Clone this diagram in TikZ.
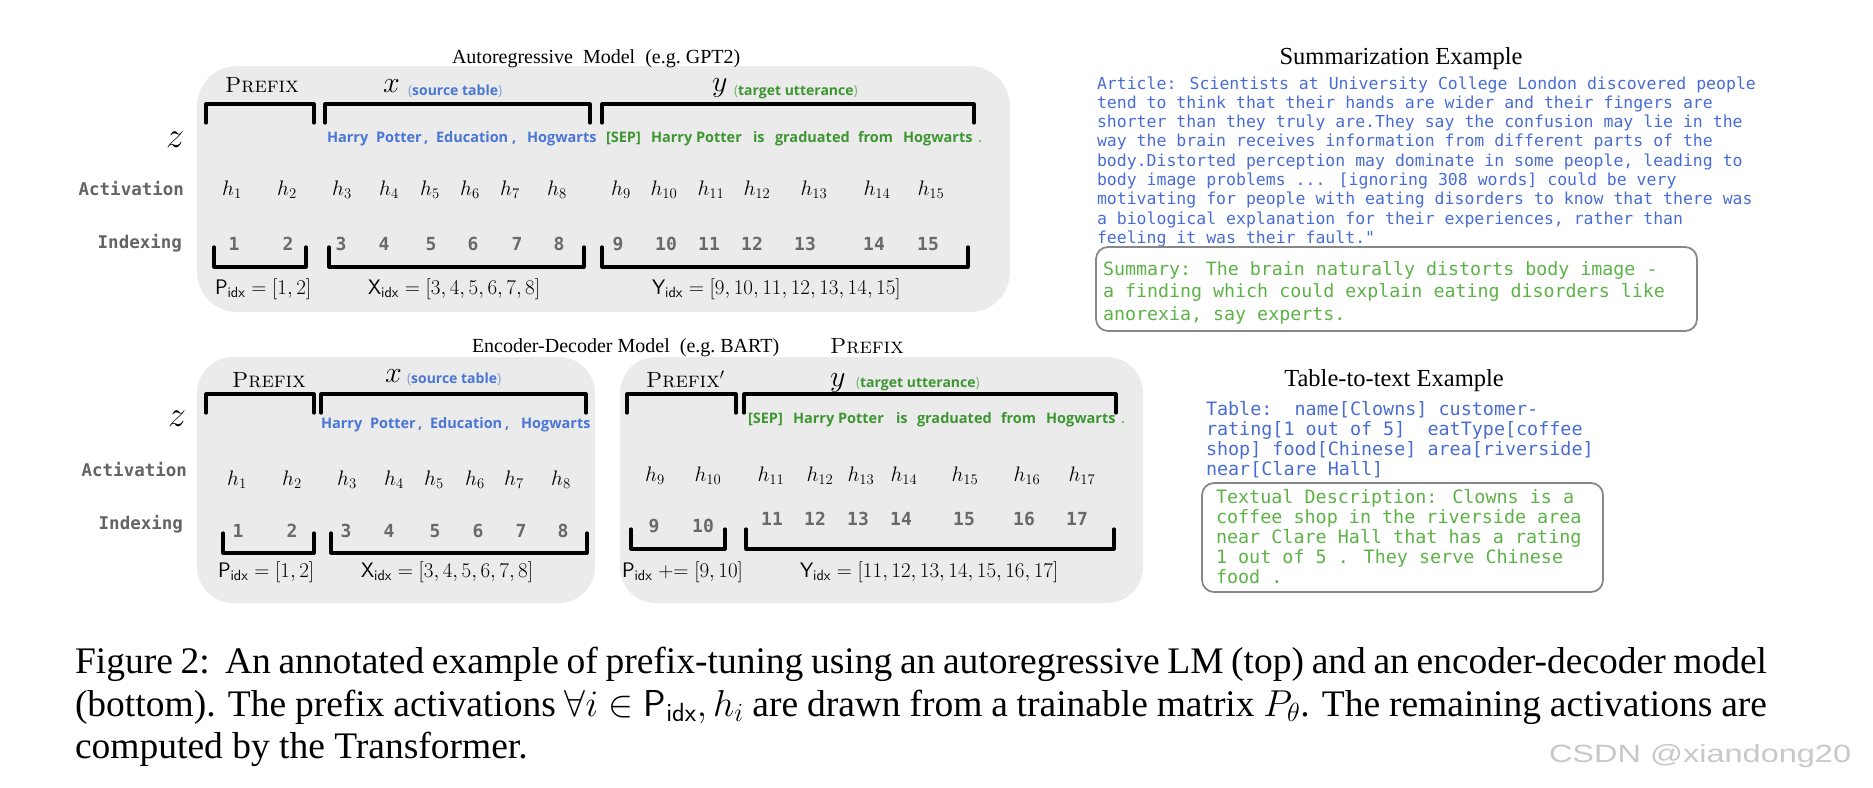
\RequirePackage{fix-cm}
\documentclass[tikz,border=0pt]{standalone}
\usepackage{fontspec}
\newfontfamily\tms{Liberation Serif}
\newfontfamily\mono{DejaVu Sans Mono}
\newfontfamily\osans{Open Sans}
\newfontfamily\wmfont[FakeStretch=1.3]{Liberation Sans}
\definecolor{boxgray}{RGB}{235,235,235}
\definecolor{tokblue}{RGB}{74,118,214}
\definecolor{tokgreen}{RGB}{62,150,50}
\definecolor{artblue}{RGB}{72,108,212}
\definecolor{sumgreen}{RGB}{92,178,70}
\definecolor{lblgray}{RGB}{100,100,100}
\definecolor{numgray}{RGB}{105,105,105}
\definecolor{bordergray}{RGB}{135,135,135}
\definecolor{wmgray}{RGB}{200,200,200}
\newcommand\FS[2]{\fontsize{#1}{#2}\selectfont}
\newcommand\TDots{...}
\newcommand\TopBr[3]{\draw[brk] (#1,#3+19) -- (#1,#3) -- (#2,#3) -- (#2,#3+19);}
\newcommand\BotBr[3]{\draw[brk] (#1,#3) -- (#1,#3+20) -- (#2,#3+20) -- (#2,#3);}
\tikzset{
  txt/.style={inner sep=0pt, outer sep=0pt, anchor=base west},
  ctr/.style={inner sep=0pt, outer sep=0pt, anchor=base},
  rgt/.style={inner sep=0pt, outer sep=0pt, anchor=base east},
  brk/.style={line width=3.2pt, line cap=round, line join=round, black},
  panel/.style={fill=boxgray, draw=none},
  ttl/.style={txt, font=\tms\FS{20}{24}},
  pfx/.style={txt, font=\FS{22}{26}\scshape},
  tokb/.style={txt, font=\osans\bfseries\FS{14.5}{17}, text=tokblue},
  tokg/.style={txt, font=\osans\bfseries\FS{14.5}{17}, text=tokgreen},
  hh/.style={ctr, font=\FS{21}{25}},
  num/.style={ctr, font=\mono\bfseries\FS{18}{20}, text=numgray},
  lbl/.style={rgt, font=\mono\bfseries\FS{17.5}{20}, text=lblgray},
  idxl/.style={txt, font=\FS{21}{25}},
  zz/.style={ctr, font=\FS{36}{40}},
  var/.style={txt, font=\FS{30}{34}},
  art/.style={txt, font=\mono\FS{16.5}{19}, text=artblue},
  artg/.style={txt, font=\mono\FS{18.3}{20}, text=sumgreen},
  tbl/.style={txt, font=\mono\FS{18.4}{20}, text=artblue},
  exbox/.style={draw=bordergray, line width=1.8pt, rounded corners=12pt},
  exttl/.style={ctr, font=\tms\FS{24.5}{28}},
  captxt/.style={txt, font=\tms\FS{37.5}{43}},
}
\newcommand\srcT{{\color{tokblue!70}\mdseries(}source table{\color{tokblue!70}\mdseries)}}
\newcommand\tgtT{{\color{tokgreen!70}\mdseries(}target utterance{\color{tokgreen!70}\mdseries)}}
\begin{document}
\begin{tikzpicture}[x=1pt, y=-1pt]
\useasboundingbox (0,0) rectangle (1873,787);

% ---------------- panels ----------------
\fill[panel, rounded corners=40pt] (197,66) rectangle (1010,312);
\fill[panel, rounded corners=36pt] (197,357) rectangle (595,603);
\fill[panel, rounded corners=36pt] (620,357) rectangle (1143,603);

% ---------------- titles ----------------
\node[ttl] (t1) at (452,63) {Autoregressive\ \ Model\ \ (e.g.\ GPT2)};
\node[ttl] (t2) at (472,352) {Encoder-Decoder Model\ \ (e.g.\ BART)};
\node[pfx] (strayp) at (830,353) {Prefix};

% ---------------- left labels ----------------
\node[zz] (z1) at (175,147) {$z$};
\node[lbl] (act1) at (184,195) {Activation};
\node[lbl] (ind1) at (182,248) {Indexing};
\node[zz] (z2) at (177,426) {$z$};
\node[lbl] (act2) at (187,476) {Activation};
\node[lbl] (ind2) at (183,529) {Indexing};

% ================= TOP PANEL =================
\node[pfx] (p1) at (225,92) {Prefix};
\node[var] (x1) at (383,92) {$x$};
\node[txt, font=\osans\bfseries\FS{14}{16}, text=tokblue] (s1) at (408,95) {\srcT};
\node[var] (y1) at (712,91) {$y$};
\node[txt, font=\osans\bfseries\FS{14}{16}, text=tokgreen] (g1) at (734,95) {\tgtT};

\TopBr{206}{314}{104}
\TopBr{325}{590}{104}
\TopBr{602}{974}{104}

\node[tokb] (a1) at (327,142) {Harry};
\node[tokb] (a2) at (376,142) {Potter};
\node[tokb] (a3) at (424,142) {,};
\node[tokb] (a4) at (436,142) {Education};
\node[tokb] (a5) at (512,142) {,};
\node[tokb] (a6) at (527,142) {Hogwarts};
\node[tokg] (a7) at (606,142) {[SEP]};
\node[tokg] (a8) at (651,142) {Harry Potter};
\node[tokg] (a9) at (753,142) {is};
\node[tokg] (a10) at (775,142) {graduated};
\node[tokg] (a11) at (858,142) {from};
\node[tokg] (a12) at (903,142) {Hogwarts};
\node[tokg, text=tokgreen!60] (a13) at (978,142) {.};

\foreach \xx/\k in {232/1,287/2,342/3,389/4,430/5,470/6,510/7,557/8,621/9,664/10,711/11,757/12,814/13,877/14,931/15}
  \node[hh] (ha\k) at (\xx,195) {$h_{\k}$};
\foreach \xx/\k in {234/1,288/2,341/3,384/4,431/5,473/6,517/7,559/8,618/9,666/10,709/11,752/12,805/13,874/14,928/15}
  \node[num] (na\k) at (\xx,250) {\k};

\BotBr{214}{306}{247}
\BotBr{329}{584}{247}
\BotBr{602}{968}{247}

\node[idxl] (pa) at (215,294) {$\mathsf{P}_{\mathsf{idx}} = [1,2]$};
\node[idxl] (xa) at (368,294) {$\mathsf{X}_{\mathsf{idx}} = [3,4,5,6,7,8]$};
\node[idxl] (ya) at (652,294) {$\mathsf{Y}_{\mathsf{idx}} = [9,10,11,12,13,14,15]$};

% ================= BOTTOM LEFT PANEL =================
\node[pfx] (p2) at (232,387) {Prefix};
\node[var] (x2) at (385,382) {$x$};
\node[txt, font=\osans\bfseries\FS{14}{16}, text=tokblue] (s2) at (407,383) {\srcT};
\TopBr{206}{314}{394}
\TopBr{321}{586}{394}
\node[tokb] (b1) at (321,428) {Harry};
\node[tokb] (b2) at (370,428) {Potter};
\node[tokb] (b3) at (418,428) {,};
\node[tokb] (b4) at (430,428) {Education};
\node[tokb] (b5) at (505,428) {,};
\node[tokb] (b6) at (521,428) {Hogwarts};
\foreach \xx/\k in {237/1,292/2,347/3,394/4,434/5,475/6,514/7,561/8}
  \node[hh] (hb\k) at (\xx,485) {$h_{\k}$};
\foreach \xx/\k in {238/1,292/2,346/3,389/4,435/5,478/6,521/7,563/8}
  \node[num] (nb\k) at (\xx,537) {\k};
\BotBr{223}{314}{533}
\BotBr{331}{587}{533}
\node[idxl] (pb) at (218,577) {$\mathsf{P}_{\mathsf{idx}} = [1,2]$};
\node[idxl] (xb) at (361,577) {$\mathsf{X}_{\mathsf{idx}} = [3,4,5,6,7,8]$};

% ================= BOTTOM RIGHT PANEL =================
\node[pfx] (p3) at (646,387) {Prefix$'$};
\node[var] (y3) at (830,386) {$y$};
\node[txt, font=\osans\bfseries\FS{14}{16}, text=tokgreen] (g3) at (856,387) {\tgtT};
\TopBr{627}{736}{394}
\TopBr{744}{1116}{394}
\node[tokg] (c1) at (748,423) {[SEP]};
\node[tokg] (c2) at (793,423) {Harry Potter};
\node[tokg] (c3) at (896,423) {is};
\node[tokg] (c4) at (917,423) {graduated};
\node[tokg] (c5) at (1001,423) {from};
\node[tokg] (c6) at (1046,423) {Hogwarts};
\node[tokg, text=tokgreen!60] (c7) at (1121,423) {.};
\foreach \xx/\k in {655/9,708/10,771/11,820/12,861/13,904/14,965/15,1027/16,1082/17}
  \node[hh] (hc\k) at (\xx,481) {$h_{\k}$};
\node[num] (nc9) at (654,532) {9};
\node[num] (nc10) at (703,532) {10};
\foreach \xx/\k in {772/11,815/12,858/13,901/14,964/15,1024/16,1077/17}
  \node[num] (nc\k) at (\xx,525) {\k};
\BotBr{631}{725}{529}
\BotBr{746}{1114}{529}
\node[idxl] (pc) at (622,577) {$\mathsf{P}_{\mathsf{idx}} \mathrel{+}= [9,10]$};
\node[idxl] (yc) at (800,577) {$\mathsf{Y}_{\mathsf{idx}} = [11,12,13,14,15,16,17]$};

% ================= SUMMARIZATION =================
\node[exttl] (sumt) at (1401,64) {Summarization Example};
\foreach \ln [count=\i from 0] in {{Article: Scientists at University College London discovered people},{tend to think that their hands are wider and their fingers are},{shorter than they truly are.They say the confusion may lie in the},{way the brain receives information from different parts of the},{body.Distorted perception may dominate in some people, leading to},{body image problems \TDots{} [ignoring 308 words] could be very},{motivating for people with eating disorders to know that there was},{a biological explanation for their experiences, rather than},{feeling it was their fault."}}
  \node[art] (art\i) at (1097,89+19.3*\i) {\ln};
\draw[exbox] (1096,247) rectangle (1697,331);
\foreach \ln [count=\i from 0] in {{Summary: The brain naturally distorts body image -},{a finding which could explain eating disorders like},{anorexia, say experts.}}
  \node[artg] (sum\i) at (1103,275+22.5*\i) {\ln};

% ================= TABLE-TO-TEXT =================
\node[exttl] (tabt) at (1394,386) {Table-to-text Example};
\foreach \ln [count=\i from 0] in {{Table:\ \ name[Clowns] customer-},{rating[1 out of 5]\ \ eatType[coffee},{shop] food[Chinese] area[riverside]},{near[Clare Hall]}}
  \node[tbl] (tab\i) at (1206,415+20*\i) {\ln};
\draw[exbox] (1202,483) rectangle (1603,592);
\foreach \ln [count=\i from 0] in {{Textual Description: Clowns is a},{coffee shop in the riverside area},{near Clare Hall that has a rating},{1 out of 5 . They serve Chinese},{food .}}
  \node[txt, font=\mono\FS{18.4}{20}, text=sumgreen] (desc\i) at (1216,503+20*\i) {\ln};

% ================= CAPTION =================
\node[captxt] (cap1) at (75,673) {\makebox[1692pt][s]{Figure 2:\ \ An annotated example of prefix-tuning using an autoregressive LM (top) and an encoder-decoder model}};
\node[captxt] (cap2) at (75,716) {\makebox[1692pt][s]{(bottom). The prefix activations $\forall i \in \mathsf{P}_{\mathsf{idx}}, h_i$ are drawn from a trainable matrix $P_\theta$. The remaining activations are}};
\node[captxt] (cap3) at (75,758) {computed by the Transformer.};

\node[txt, font=\wmfont\FS{25}{28}, text=wmgray] (wm) at (1549,762) {CSDN @xiandong20};
\end{tikzpicture}
\end{document}
